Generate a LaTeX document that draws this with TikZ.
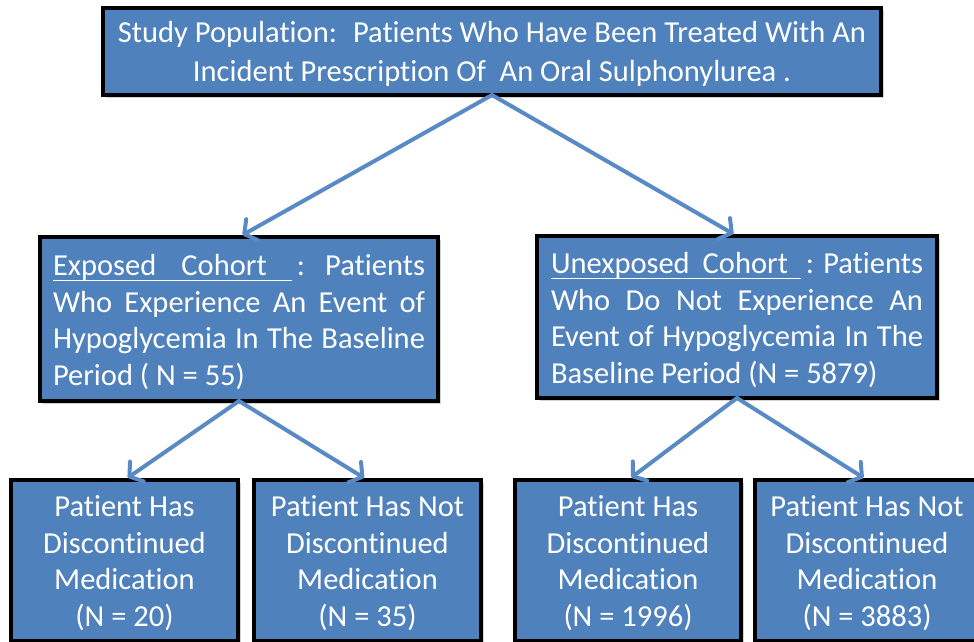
\documentclass[tikz,border=0pt]{standalone}
\usepackage{fontspec}
\setmainfont{Carlito}[Ligatures=NoCommon]
\usetikzlibrary{arrows.meta,shadows}
\definecolor{boxblue}{HTML}{4F81BD}
\definecolor{linkblue}{HTML}{5A8AC6}

% underlined heading word group stretched to a given width
\newcommand{\headrule}[2]{\rlap{\rule[-5.5pt]{#1}{1.4pt}}\hbox to #1{#2}}

\begin{document}
\begin{tikzpicture}[x=1pt,y=-1pt,
  box/.style={draw=black, line width=3.2pt, fill=boxblue,
    inner sep=0pt, outer sep=0pt,
    drop shadow={shadow xshift=2.5pt, shadow yshift=-2.5pt, opacity=0.35}},
  label/.style={text=white, inner sep=0pt},
  bodyfont/.style={font=\fontsize{30.5}{36.5}\selectfont},
  link/.style={draw=linkblue, line width=4pt, line cap=round,
    -{Straight Barb[length=9pt, width=24pt, line width=4pt, line cap=round, round]},
    shorten >=4pt}
]
\useasboundingbox (0,0) rectangle (974,642);

% boxes
\node[box, minimum width=778pt, minimum height=87pt] (root) at (492,51.5) {};
\node[box, minimum width=398pt, minimum height=164pt] (exp) at (239,319) {};
\node[box, minimum width=400pt, minimum height=162pt] (unexp) at (737,317) {};
\node[box, minimum width=227pt, minimum height=161pt] (e1) at (124.5,560.5) {};
\node[box, minimum width=227pt, minimum height=161pt] (e2) at (367.5,560.5) {};
\node[box, minimum width=226pt, minimum height=161pt] (u1) at (628,560.5) {};
\node[box, minimum width=224pt, minimum height=161pt] (u2) at (867,560.5) {};

% box texts
\node[label, align=center, font=\fontsize{30.5}{39}\selectfont] (rootT)
  at ([yshift=-2.5pt]root.center)
  {Study Population:~ Patients Who Have Been Treated With An\\
   Incident Prescription Of~ An Oral Sulphonylurea .};

\node[label, bodyfont, text width=372pt, align=justify] (expT)
  at ([yshift=-3pt]exp.center)
  {\hbox to 372pt{\headrule{239pt}{Exposed\hfill Cohort\hfill\null}\hskip 5pt:\hfill Patients}\linebreak
   Who Experience An Event of\linebreak
   Hypoglycemia In The Baseline\linebreak
   Period ( N = 55)};

\node[label, bodyfont, text width=372pt, align=justify] (unexpT)
  at ([yshift=-3pt]unexp.center)
  {\hbox to 372pt{\headrule{250pt}{Unexposed\hfill Cohort\hfill\null}\hskip 5pt:\hfill Patients}\linebreak
   Who Do Not Experience An\linebreak
   Event of Hypoglycemia In The\linebreak
   Baseline Period (N = 5879)};

\node[label, bodyfont, align=center] (e1T) at ([yshift=-2.5pt]e1.center)
  {Patient Has\\ Discontinued\\ Medication\\ (N = 20)};
\node[label, bodyfont, align=center] (e2T) at ([yshift=-2.5pt]e2.center)
  {Patient Has Not\\ Discontinued\\ Medication\\ (N = 35)};
\node[label, bodyfont, align=center] (u1T) at ([yshift=-2.5pt]u1.center)
  {Patient Has\\ Discontinued\\ Medication\\ (N = 1996)};
\node[label, bodyfont, align=center] (u2T) at ([yshift=-2.5pt]u2.center)
  {Patient Has Not\\ Discontinued\\ Medication\\ (N = 3883)};

% connectors
\draw[link] (root.south) -- (exp.north);
\draw[link] (root.south) -- (unexp.north);
\draw[link] (exp.south) -- (e1.north);
\draw[link] (exp.south) -- (e2.north);
\draw[link] (unexp.south) -- (u1.north);
\draw[link] (unexp.south) -- (u2.north);
\end{tikzpicture}
\end{document}
